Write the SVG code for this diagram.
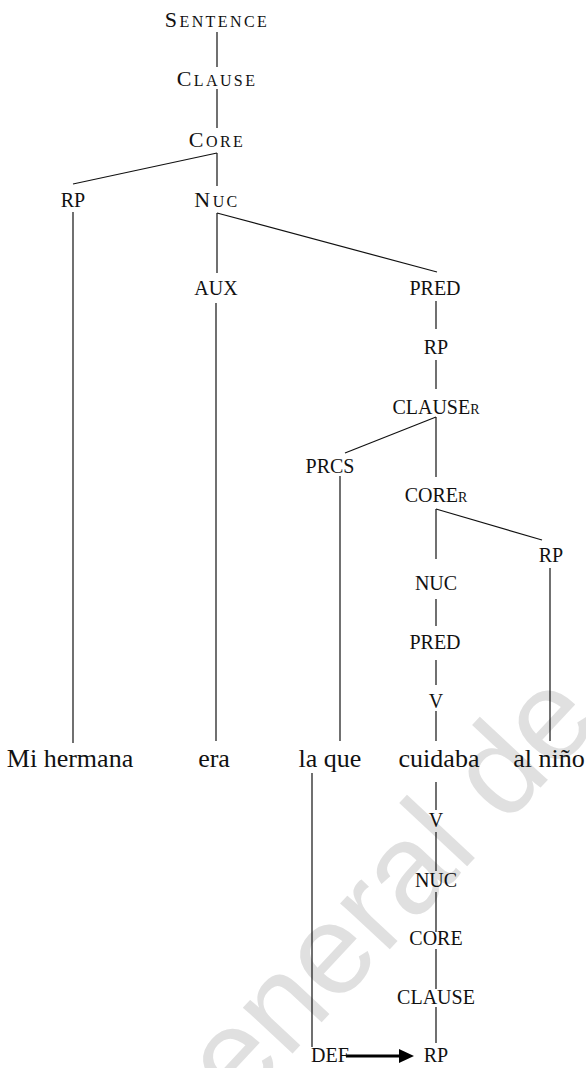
<svg xmlns="http://www.w3.org/2000/svg" width="586" height="1068" viewBox="0 0 586 1068">
  <style>
    .lbl { font-family: 'Liberation Serif', 'DejaVu Serif', serif; font-size: 20px; fill: #111; text-anchor: middle; }
    .sc { font-size: 22px; letter-spacing: 2.4px; }
    .sc tspan.s { font-size: 16px; }
    .sub { font-size: 14px; }
    .word { font-size: 26px; }
    .edge { stroke: #111; stroke-width: 1.2; fill: none; }
    .wm { font-family: 'Liberation Sans', sans-serif; font-size: 128px; fill: #e0e0e0; }
  </style>

  <rect width="586" height="1068" fill="#fff"/>

  <!-- background stamp -->
  <text class="wm" transform="translate(238,1112) rotate(-47)">eneral de</text>

  <!-- tree edges -->
  <g id="connectors">
    <line class="edge" x1="217" y1="32" x2="217" y2="67"/>
    <line class="edge" x1="217" y1="89" x2="217" y2="128"/>
    <line class="edge" x1="217" y1="153" x2="73" y2="184"/>
    <line class="edge" x1="217" y1="153" x2="217" y2="186"/>
    <line class="edge" x1="73" y1="212" x2="73" y2="743"/>
    <line class="edge" x1="217" y1="213" x2="217" y2="273"/>
    <line class="edge" x1="217" y1="213" x2="437" y2="272"/>
    <line class="edge" x1="216" y1="303" x2="216" y2="741"/>
    <line class="edge" x1="436" y1="301" x2="436" y2="329"/>
    <line class="edge" x1="436" y1="360" x2="436" y2="389"/>
    <line class="edge" x1="436" y1="417" x2="345" y2="453"/>
    <line class="edge" x1="436" y1="417" x2="436" y2="477"/>
    <line class="edge" x1="340" y1="476" x2="340" y2="741"/>
    <line class="edge" x1="436" y1="509" x2="542" y2="540"/>
    <line class="edge" x1="436" y1="509" x2="436" y2="559"/>
    <line class="edge" x1="550" y1="568" x2="550" y2="741"/>
    <line class="edge" x1="436" y1="599" x2="436" y2="626"/>
    <line class="edge" x1="436" y1="660" x2="436" y2="685"/>
    <line class="edge" x1="436" y1="711" x2="436" y2="741"/>
    <line class="edge" x1="436" y1="782" x2="436" y2="810"/>
    <line class="edge" x1="436" y1="832" x2="436" y2="871"/>
    <line class="edge" x1="436" y1="892" x2="436" y2="932"/>
    <line class="edge" x1="436" y1="949" x2="436" y2="989"/>
    <line class="edge" x1="436" y1="1007" x2="436" y2="1043"/>
    <line class="edge" x1="312" y1="773" x2="312" y2="1047"/>
    <line x1="346" y1="1056" x2="400" y2="1056" stroke="#000" stroke-width="3"/>
    <path d="M399,1049 L414,1056 L399,1063 Z" fill="#000"/>
  </g>

  <!-- upper clause -->
  <g id="n-sentence"><text class="lbl sc" x="217" y="27">S<tspan class="s">ENTENCE</tspan></text></g>
  <g id="n-clause"><text class="lbl sc" x="217" y="86">C<tspan class="s">LAUSE</tspan></text></g>
  <g id="n-core"><text class="lbl sc" x="217" y="147">C<tspan class="s">ORE</tspan></text></g>
  <g id="n-rp1"><text class="lbl" x="73" y="207">RP</text></g>
  <g id="n-nuc1"><text class="lbl sc" x="217" y="207">N<tspan class="s">UC</tspan></text></g>
  <g id="n-aux"><text class="lbl" x="216" y="295">AUX</text></g>
  <g id="n-pred1"><text class="lbl" x="435" y="295">PRED</text></g>
  <g id="n-rp2"><text class="lbl" x="436" y="354">RP</text></g>

  <!-- relative clause -->
  <g id="n-clause-r"><text class="lbl" x="436" y="414">CLAUSE<tspan class="sub">R</tspan></text></g>
  <g id="n-prcs"><text class="lbl" x="330" y="473">PRCS</text></g>
  <g id="n-core-r"><text class="lbl" x="436" y="502">CORE<tspan class="sub">R</tspan></text></g>
  <g id="n-rp3"><text class="lbl" x="551" y="562">RP</text></g>
  <g id="n-nuc2"><text class="lbl" x="436" y="590">NUC</text></g>
  <g id="n-pred2"><text class="lbl" x="435" y="649">PRED</text></g>
  <g id="n-v1"><text class="lbl" x="436" y="708">V</text></g>

  <!-- words -->
  <g id="w-mi-hermana"><text class="lbl word" x="70" y="767">Mi hermana</text></g>
  <g id="w-era"><text class="lbl word" x="214" y="767">era</text></g>
  <g id="w-la-que"><text class="lbl word" x="330" y="767">la que</text></g>
  <g id="w-cuidaba"><text class="lbl word" x="439" y="767">cuidaba</text></g>
  <g id="w-al-nino"><text class="lbl word" x="549" y="767">al niño</text></g>

  <!-- lower projection -->
  <g id="n-v2"><text class="lbl" x="436" y="827">V</text></g>
  <g id="n-nuc3"><text class="lbl" x="436" y="887">NUC</text></g>
  <g id="n-core2"><text class="lbl" x="436" y="945">CORE</text></g>
  <g id="n-clause2"><text class="lbl" x="436" y="1004">CLAUSE</text></g>
  <g id="n-def"><text class="lbl" x="330" y="1062">DEF</text></g>
  <g id="n-rp4"><text class="lbl" x="436" y="1062">RP</text></g>
</svg>
